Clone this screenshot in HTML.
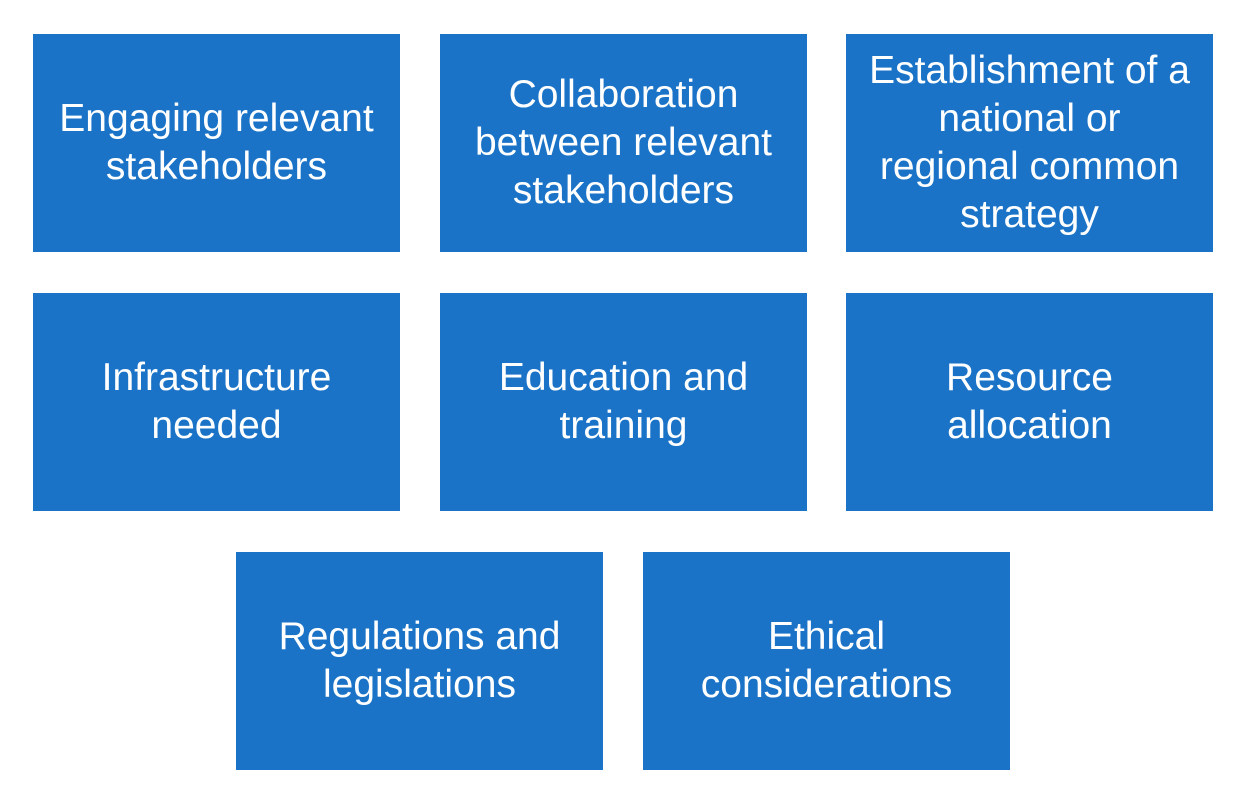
<!DOCTYPE html>
<html><head><style>
body{margin:0;width:1243px;height:796px;background:#fff;position:relative;overflow:hidden;font-family:"Liberation Sans",sans-serif}
.b{position:absolute;width:367px;height:218px;background:#1a73c7;color:#fff;display:flex;align-items:center;justify-content:center;text-align:center;font-size:39px;line-height:48px;white-space:nowrap}
</style></head><body>
<div class="b" style="left:33px;top:34px">Engaging relevant<br>stakeholders</div>
<div class="b" style="left:440px;top:34px">Collaboration<br>between relevant<br>stakeholders</div>
<div class="b" style="left:846px;top:34px">Establishment of a<br>national or<br>regional common<br>strategy</div>
<div class="b" style="left:33px;top:293px">Infrastructure<br>needed</div>
<div class="b" style="left:440px;top:293px">Education and<br>training</div>
<div class="b" style="left:846px;top:293px">Resource<br>allocation</div>
<div class="b" style="left:236px;top:552px">Regulations and<br>legislations</div>
<div class="b" style="left:643px;top:552px">Ethical<br>considerations</div>
</body></html>
